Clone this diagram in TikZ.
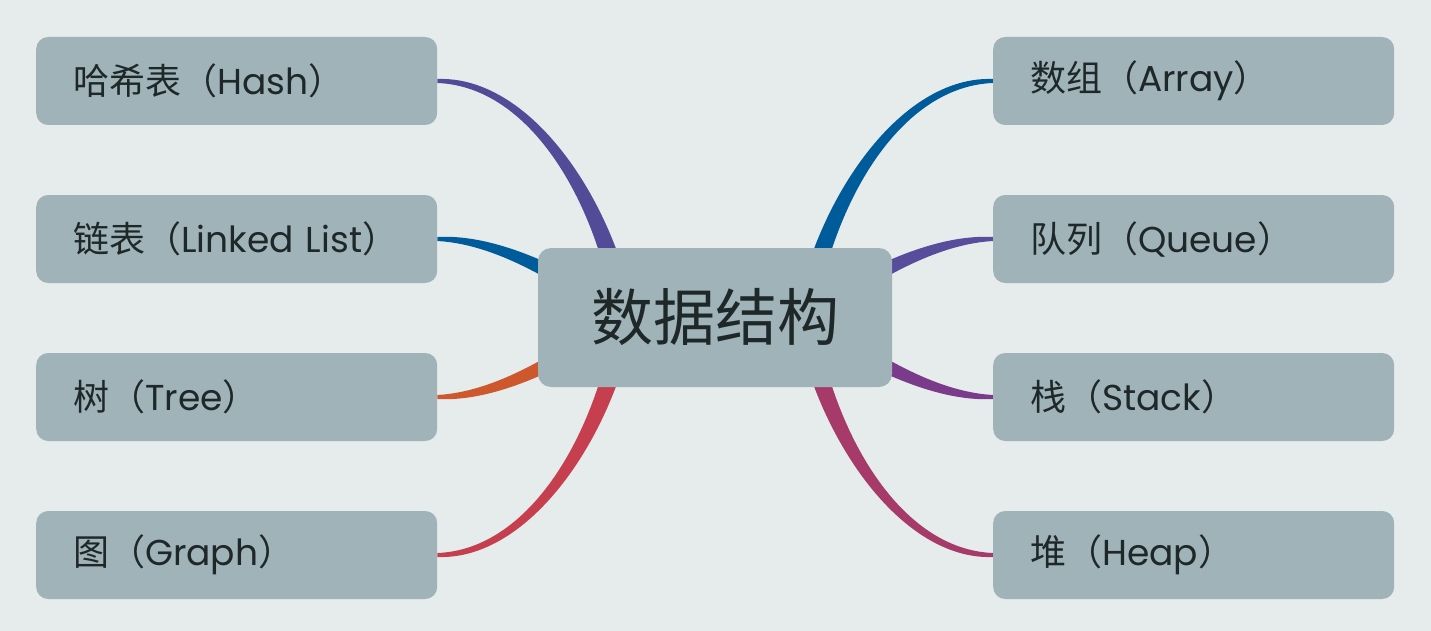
\documentclass[tikz,border=0pt]{standalone}
\usepackage{fontspec}
\setmainfont{Poppins}
\newfontfamily\cjk{Noto Sans CJK SC}
\usetikzlibrary{calc}
\definecolor{bgc}{HTML}{E6ECEC}
\definecolor{boxc}{HTML}{9FB3B8}
\definecolor{txtc}{HTML}{1E2828}
\definecolor{chash}{HTML}{524C98}
\definecolor{clink}{HTML}{005B9B}
\definecolor{ctree}{HTML}{CE582D}
\definecolor{cgraph}{HTML}{C53F4E}
\definecolor{carray}{HTML}{005B9B}
\definecolor{cqueue}{HTML}{584C9C}
\definecolor{cstack}{HTML}{7B3B8B}
\definecolor{cheap}{HTML}{A63A68}
\pgfdeclarelayer{bglayer}
\pgfdeclarelayer{branchlayer}
\pgfsetlayers{bglayer,branchlayer,main}
\newcommand\branchfill[5]{%
  \fill[#1] ($(#2)!2pt!90:(#3)$) .. controls ($(#3)!5.5pt!-90:(#2)$) and ($(#4)!8.5pt!90:(#5)$) .. ($(#5)!10pt!-90:(#4)$)
    -- ($(#5)!10pt!90:(#4)$) .. controls ($(#4)!8.5pt!-90:(#5)$) and ($(#3)!5.5pt!90:(#2)$) .. ($(#2)!2pt!-90:(#3)$) -- cycle;}
\newcommand\lbl[2]{{\cjk #1（}#2{\cjk ）}}
\begin{document}
\begin{tikzpicture}[x=1pt,y=-1pt,
  leafbox/.style={fill=boxc, rounded corners=12pt, anchor=west, minimum height=88pt,
    text width=327pt, inner xsep=37pt, inner ysep=0pt, align=left, text=txtc,
    font=\fontsize{36}{42}\selectfont},
  rootbox/.style={fill=boxc, rounded corners=13pt, minimum width=354pt, minimum height=139pt,
    inner sep=0pt, text=txtc, font=\cjk\fontsize{62}{70}\selectfont}]
\begin{pgfonlayer}{bglayer}
\fill[bgc] (0,0) rectangle (1431,631);
\end{pgfonlayer}
\useasboundingbox (0,0) rectangle (1431,631);

\node[rootbox] (center) at (715,317.5) {数据结构};

\node[leafbox] (hash) at (36,81) {\lbl{哈希表}{Hash}};
\node[leafbox] (linked) at (36,239) {\lbl{链表}{Linked List}};
\node[leafbox] (tree) at (36,397) {\lbl{树}{Tree}};
\node[leafbox] (graph) at (36,555) {\lbl{图}{Graph}};

\node[leafbox] (array) at (993,81) {\lbl{数组}{Array}};
\node[leafbox] (queue) at (993,239) {\lbl{队列}{Queue}};
\node[leafbox] (stack) at (993,397) {\lbl{栈}{Stack}};
\node[leafbox] (heap) at (993,555) {\lbl{堆}{Heap}};

\coordinate (OL) at ($(center.center)+(-90,0)$);
\coordinate (OR) at ($(center.center)+(90,0)$);

% left branch controls
\coordinate (hA) at ($(hash.east)+(93,0)$);   \coordinate (hB) at ($(OL)+(-20,-117)$);
\coordinate (lA) at ($(linked.east)+(63,0)$); \coordinate (lB) at ($(OL)+(-55,-37)$);
\coordinate (tA) at ($(tree.east)+(63,0)$);   \coordinate (tB) at ($(OL)+(-55,37)$);
\coordinate (gA) at ($(graph.east)+(93,0)$);  \coordinate (gB) at ($(OL)+(-20,117)$);
% right branch controls
\coordinate (aA) at ($(array.west)+(-93,0)$); \coordinate (aB) at ($(OR)+(20,-117)$);
\coordinate (qA) at ($(queue.west)+(-63,0)$); \coordinate (qB) at ($(OR)+(55,-37)$);
\coordinate (sA) at ($(stack.west)+(-63,0)$); \coordinate (sB) at ($(OR)+(55,37)$);
\coordinate (pA) at ($(heap.west)+(-93,0)$);  \coordinate (pB) at ($(OR)+(20,117)$);

\begin{pgfonlayer}{branchlayer}
\branchfill{chash}{hash.east}{hA}{hB}{OL}
\branchfill{clink}{linked.east}{lA}{lB}{OL}
\branchfill{ctree}{tree.east}{tA}{tB}{OL}
\branchfill{cgraph}{graph.east}{gA}{gB}{OL}
\branchfill{carray}{array.west}{aA}{aB}{OR}
\branchfill{cqueue}{queue.west}{qA}{qB}{OR}
\branchfill{cstack}{stack.west}{sA}{sB}{OR}
\branchfill{cheap}{heap.west}{pA}{pB}{OR}
\end{pgfonlayer}
\end{tikzpicture}
\end{document}
